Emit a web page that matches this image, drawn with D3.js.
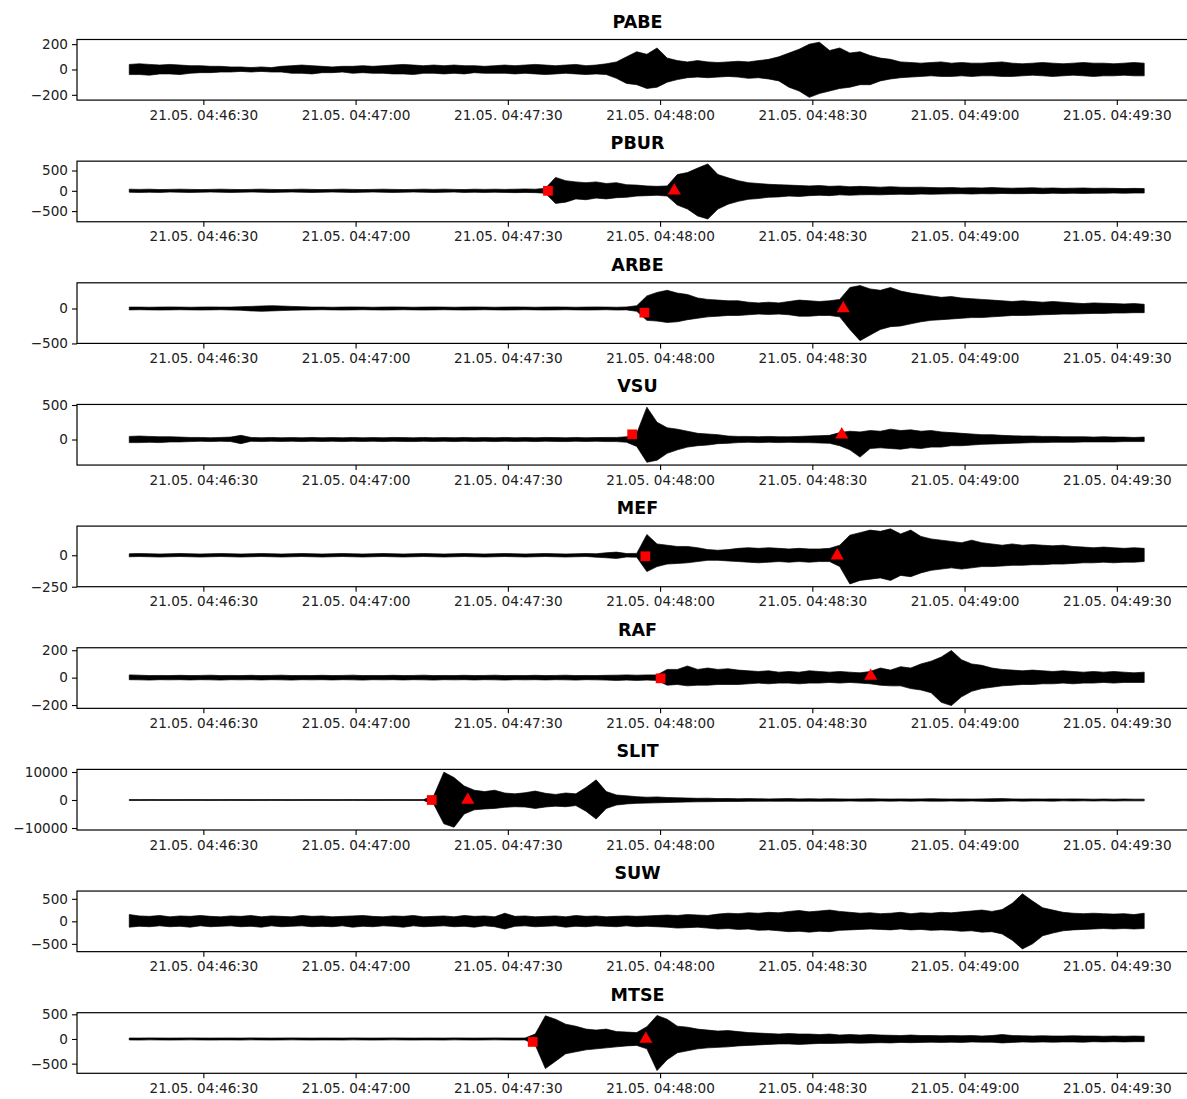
<!DOCTYPE html>
<html>
<head>
<meta charset="utf-8">
<script src="https://cdn.jsdelivr.net/npm/d3@7"></script>
<style>
body { margin: 0; background: #fff; }
text { font-family: "DejaVu Sans", sans-serif; }
</style>
</head>
<body>
<svg id="chart" width="1187" height="1099"></svg>
<script>
var stations = ["PABE", "PBUR", "ARBE", "VSU", "MEF", "RAF", "SLIT", "SUW", "MTSE"];

// trace envelope, one max/min pair every 2 s starting 21.05. 04:46:15.4
var traceStart = new Date(2021, 4, 21, 4, 46, 15, 400);
var stepMs = 2000;

var pabeHi = [40,45,40,35,40,35,30,30,25,25, 20,20,15,20,15,25,30,35,30,25, 20,25,25,30,25,30,35,40,35,30,
  35,30,35,30,30,25,30,35,30,35, 40,35,30,35,40,30,35,45,60,100, 140,120,170,90,70,60,70,60,55,60,
  65,60,70,80,100,130,160,200,215,150, 170,130,140,110,90,80,60,55,50,55, 60,50,55,50,50,55,60,50,45,50,
  55,50,45,50,55,50,50,45,50,55,50];
var pabeLo = [-40,-40,-45,-35,-35,-40,-30,-25,-25,-20, -20,-15,-20,-15,-20,-20,-30,-30,-35,-25, -25,-20,-30,-25,-30,-30,-35,-35,-40,-30,
  -30,-35,-30,-35,-25,-30,-30,-30,-35,-30, -35,-40,-35,-30,-35,-40,-35,-40,-70,-110, -120,-150,-140,-100,-80,-65,-60,-65,-60,-55,
  -60,-70,-65,-75,-90,-140,-170,-220,-190,-170, -150,-140,-120,-120,-90,-75,-65,-60,-55,-50, -55,-55,-50,-55,-50,-50,-55,-55,-50,-45,
  -50,-55,-50,-45,-50,-55,-50,-50,-45,-50,-50];

var pburHi = [40,35,40,30,35,40,35,30,35,40, 35,30,35,40,35,30,35,40,35,30, 35,40,35,30,35,40,35,30,35,40,
  35,40,35,30,40,35,40,35,40,45, 40,60,330,250,220,200,220,180,200,150, 140,120,110,120,400,450,560,663,400,320,
  250,200,180,160,150,140,130,120,130,110, 120,100,110,100,90,100,90,85,90,80, 75,80,70,75,70,80,70,65,70,75,
  65,70,60,65,70,60,65,60,55,60,55];
var pburLo = [-35,-40,-35,-40,-30,-35,-40,-35,-30,-35, -40,-35,-30,-35,-40,-35,-30,-35,-40,-35, -30,-35,-40,-35,-30,-35,-40,-35,-30,-35,
  -40,-35,-30,-40,-35,-40,-35,-40,-45,-40, -45,-60,-310,-280,-200,-220,-180,-200,-170,-160, -130,-120,-110,-130,-350,-450,-620,-695,-450,-330,
  -260,-210,-190,-160,-150,-130,-140,-120,-110,-120, -100,-110,-100,-95,-100,-90,-85,-90,-80,-85, -80,-75,-70,-80,-70,-75,-65,-70,-70,-65,
  -70,-60,-65,-60,-65,-60,-60,-55,-60,-55,-55];

var arbeHi = [20,20,18,20,22,20,18,20,22,20, 20,25,30,35,40,35,30,25,20,20, 18,20,22,20,18,20,22,20,18,20,
  22,20,18,20,22,20,18,20,22,20, 18,20,22,20,18,20,22,20,18,22, 40,180,230,260,220,200,150,130,120,110,
  110,90,80,90,80,100,120,110,100,110, 130,300,328,280,260,300,250,220,200,180, 160,170,150,140,130,120,110,100,110,100,
  90,100,90,80,70,80,75,70,65,70,60];
var arbeLo = [-20,-18,-20,-22,-20,-18,-20,-22,-20,-18, -22,-25,-35,-40,-35,-30,-25,-22,-20,-18, -20,-22,-20,-18,-20,-22,-20,-18,-20,-22,
  -20,-18,-20,-22,-20,-18,-20,-22,-20,-18, -20,-22,-20,-18,-20,-22,-20,-18,-22,-20, -40,-170,-180,-200,-190,-160,-140,-120,-110,-100,
  -100,-90,-80,-85,-80,-90,-110,-110,-100,-100, -120,-300,-460,-380,-300,-260,-250,-220,-190,-170, -160,-150,-140,-130,-130,-120,-110,-100,-100,-95,
  -90,-85,-80,-80,-75,-70,-70,-65,-65,-60,-60];

var vsuHi = [45,50,45,40,40,35,30,30,25,30, 35,60,30,25,30,25,28,25,30,25, 28,25,30,25,28,25,30,28,25,30,
  25,28,25,30,25,28,25,30,25,28, 25,30,28,25,30,25,28,30,30,40, 90,468,250,170,150,120,90,80,70,50,
  45,45,40,45,40,40,45,50,55,60, 100,120,110,130,120,150,130,140,120,130, 110,100,90,80,70,70,60,55,50,50,
  45,45,40,40,40,35,40,35,35,30,35];
var vsuLo = [-45,-45,-40,-45,-35,-35,-30,-25,-30,-25, -30,-60,-25,-30,-25,-28,-25,-30,-25,-28, -25,-30,-25,-28,-25,-30,-25,-28,-30,-25,
  -28,-25,-30,-25,-28,-25,-30,-25,-28,-25, -30,-25,-28,-30,-25,-28,-25,-30,-30,-40, -100,-330,-300,-200,-150,-110,-90,-80,-60,-55,
  -45,-40,-45,-40,-45,-40,-45,-45,-50,-55, -90,-150,-255,-130,-120,-130,-140,-120,-130,-110, -110,-90,-90,-80,-70,-65,-60,-55,-50,-45,
  -45,-40,-40,-40,-35,-35,-35,-35,-30,-30,-30];

var mefHi = [12,14,12,10,12,14,12,10,12,14, 12,10,12,14,12,10,12,14,12,10, 12,14,12,10,12,14,12,10,12,14,
  12,10,12,14,12,10,12,14,12,10, 12,14,12,10,12,14,12,20,25,14, 15,165,90,80,70,70,60,45,40,45,
  55,60,55,60,55,50,55,50,50,55, 80,160,180,200,190,210,170,200,150,130, 120,110,100,120,100,90,80,90,80,85,
  80,75,80,70,65,60,65,60,55,60,55];
var mefLo = [-12,-10,-12,-14,-12,-10,-12,-14,-12,-10, -12,-14,-12,-10,-12,-14,-12,-10,-12,-14, -12,-10,-12,-14,-12,-10,-12,-14,-12,-10,
  -12,-14,-12,-10,-12,-14,-12,-10,-12,-14, -12,-10,-12,-14,-12,-10,-15,-20,-25,-14, -15,-130,-90,-70,-65,-60,-50,-40,-40,-45,
  -50,-55,-60,-55,-50,-55,-50,-55,-50,-50, -90,-228,-200,-190,-180,-200,-160,-170,-140,-120, -110,-100,-110,-100,-90,-90,-85,-80,-80,-75,
  -75,-70,-70,-65,-60,-60,-55,-60,-55,-55,-50];

var rafHi = [20,18,15,16,15,17,15,16,18,15, 16,15,17,15,16,18,15,16,15,17, 15,16,18,15,16,15,17,15,16,18,
  15,16,15,17,15,16,18,15,16,15, 17,15,16,18,15,16,15,17,18,20, 18,20,20,60,60,85,60,70,60,65,
  55,50,45,50,40,45,40,50,45,40, 45,40,35,45,70,55,80,70,100,120, 150,198,130,100,90,70,60,55,50,55,
  50,45,50,45,40,45,40,45,40,35,40];
var rafLo = [-15,-16,-18,-15,-16,-15,-17,-15,-16,-18, -15,-16,-15,-17,-15,-16,-18,-15,-16,-15, -17,-15,-16,-18,-15,-16,-15,-17,-15,-16,
  -18,-15,-16,-15,-17,-15,-16,-18,-15,-16, -15,-17,-15,-16,-18,-15,-16,-18,-20,-18, -20,-18,-20,-55,-50,-60,-55,-55,-50,-50,
  -50,-45,-40,-45,-40,-40,-45,-40,-40,-35, -40,-35,-40,-45,-55,-60,-60,-80,-90,-110, -180,-204,-140,-100,-80,-70,-60,-55,-50,-50,
  -45,-45,-40,-45,-40,-40,-35,-40,-35,-35,-35];

var slitHi = [150,140,160,150,140,150,160,150,140,150, 160,150,140,150,160,150,140,150,160,150, 140,150,160,150,140,150,160,150,140,150,
  1500,9946,8000,5000,3500,3000,3500,2500,2200,2600, 3200,2400,2000,2500,2200,4500,7200,3000,1800,1500,
  1200,1000,1100,900,800,700,600,650,500,550, 450,500,450,400,450,500,400,450,400,450,
  400,350,400,450,400,350,400,350,400,450, 400,350,400,350,400,450,500,400,350,400,
  350,400,350,400,350,300,350,300,350,300,300];
var slitLo = [-150,-160,-140,-150,-160,-150,-140,-150,-160,-150, -140,-150,-160,-150,-140,-150,-160,-150,-140,-150, -160,-150,-140,-150,-160,-150,-140,-150,-160,-150,
  -1500,-8500,-9726,-5000,-3500,-3200,-3000,-2600,-2400,-2500, -3000,-2500,-2200,-2400,-2000,-4000,-6800,-3000,-1800,-1400,
  -1200,-1100,-1000,-900,-800,-700,-650,-600,-550,-500, -500,-450,-450,-400,-450,-400,-450,-400,-450,-400,
  -400,-350,-400,-400,-350,-400,-350,-400,-350,-400, -400,-350,-400,-350,-450,-500,-400,-350,-400,-350,
  -350,-400,-300,-350,-300,-350,-300,-350,-300,-300,-300];

var suwHi = [150,120,110,130,100,120,110,130,110,100, 120,110,130,100,120,110,100,130,110,120, 100,110,120,130,110,100,120,110,130,100,
  110,120,100,130,110,120,100,180,110,120, 100,110,120,100,130,110,120,100,110,120, 110,120,130,140,130,150,140,130,160,180,
  170,190,180,200,190,220,240,210,230,250, 220,200,180,190,170,180,200,170,190,180, 200,190,210,230,250,220,260,400,611,450,
  300,250,200,180,170,180,170,160,170,150,180];
var suwLo = [-130,-110,-120,-100,-120,-110,-130,-100,-120,-110, -100,-120,-110,-130,-100,-120,-110,-100,-120,-110, -120,-100,-130,-110,-120,-100,-110,-130,-100,-120,
  -110,-100,-120,-110,-130,-100,-120,-170,-110,-100, -120,-110,-100,-130,-110,-120,-100,-110,-120,-100, -120,-110,-120,-130,-150,-140,-130,-150,-170,-160,
  -180,-170,-200,-190,-210,-230,-220,-240,-220,-230, -200,-190,-180,-170,-180,-190,-170,-190,-180,-200, -190,-200,-220,-210,-240,-230,-280,-420,-612,-500,
  -320,-260,-210,-190,-180,-170,-160,-170,-160,-170,-160];

var mtseHi = [20,18,22,20,18,20,22,20,18,20, 20,18,22,20,18,20,22,20,18,20, 20,18,22,20,18,20,22,20,18,20, 20,18,22,20,18,20,22,20,18,20,
  100,470,400,300,260,200,180,200,150,140, 130,250,477,400,260,240,200,180,160,170,
  150,130,120,110,100,110,100,100,90,100, 80,90,80,90,80,75,70,80,70,70, 65,70,65,70,60,70,90,70,65,60,
  65,60,60,65,60,60,55,60,55,60,55];
var mtseLo = [-20,-22,-18,-20,-22,-20,-18,-20,-22,-20, -20,-22,-18,-20,-22,-20,-18,-20,-22,-20, -20,-22,-18,-20,-22,-20,-18,-20,-22,-20, -20,-22,-18,-20,-22,-20,-18,-20,-22,-20,
  -120,-600,-450,-300,-260,-220,-200,-180,-160,-140, -130,-200,-640,-420,-280,-240,-200,-180,-170,-160,
  -140,-130,-120,-110,-100,-100,-110,-100,-90,-90, -85,-80,-85,-80,-75,-80,-70,-75,-70,-65, -70,-65,-70,-60,-65,-65,-80,-70,-60,-65,
  -60,-65,-60,-60,-65,-55,-60,-55,-60,-55,-55];

var highs = [pabeHi, pburHi, arbeHi, vsuHi, mefHi, rafHi, slitHi, suwHi, mtseHi];
var lows = [pabeLo, pburLo, arbeLo, vsuLo, mefLo, rafLo, slitLo, suwLo, mtseLo];

var yTicks = [[-200, 0, 200], [-500, 0, 500], [-500, 0], [0, 500], [-250, 0],
              [-200, 0, 200], [-10000, 0, 10000], [-500, 0, 500], [-500, 0, 500]];

// picks, seconds after 04:46:00 (null = no pick)
var pPick = [null, 97.9, 116.9, 114.5, 117.1, 120.1, 75.0, null, 94.9];
var pAmp  = [null, 0, -60, 75, -8, -5, 0, null, -60];
var sPick = [null, 122.8, 156.1, 155.8, 154.9, 161.5, 82.1, null, 117.2];
var sAmp  = [null, 0, 0, 70, -3, 12, 0, null, 0];

var minute0 = new Date(2021, 4, 21, 4, 46, 0);
function secAfter(s) { return new Date(minute0.getTime() + s * 1000); }

var svg = d3.select("#chart"),
    left = 77,
    width = 1121,
    top0 = 39.5,
    pitch = 121.65,
    height = 60.6;

var x = d3.scaleTime()
    .domain([secAfter(5.1), secAfter(226.0)])
    .range([0, width]);

stations.forEach(function(name, k) {
  var hi = highs[k], lo = lows[k];
  var data = hi.map(function(v, i) {
    return {t: new Date(traceStart.getTime() + i * stepMs), hi: v, lo: lo[i]};
  });

  var ymin = d3.min(lo), ymax = d3.max(hi), pad = (ymax - ymin) * 0.05;
  var y = d3.scaleLinear()
      .domain([ymin - pad, ymax + pad])
      .range([height, 0]);

  var g = svg.append("g")
      .attr("transform", "translate(" + left + "," + (top0 + k * pitch) + ")");

  g.append("text")
      .attr("x", width / 2)
      .attr("y", -12)
      .attr("text-anchor", "middle")
      .attr("font-weight", "bold")
      .attr("font-size", "17.5px")
      .text(name);

  var area = d3.area()
      .x(function(d) { return x(d.t); })
      .y0(function(d) { return y(d.lo); })
      .y1(function(d) { return y(d.hi); });

  g.append("path")
      .datum(data)
      .attr("fill", "#000")
      .attr("stroke", "#000")
      .attr("stroke-width", 0.7)
      .attr("stroke-linejoin", "round")
      .attr("d", area);

  if (pPick[k] !== null) {
    g.append("path")
        .attr("d", d3.symbol(d3.symbolSquare, 95)())
        .attr("transform", "translate(" + x(secAfter(pPick[k])) + "," + y(pAmp[k]) + ")")
        .attr("fill", "#ff0000");
    g.append("path")
        .attr("d", d3.symbol(d3.symbolTriangle, 75)())
        .attr("transform", "translate(" + x(secAfter(sPick[k])) + "," + y(sAmp[k]) + ")")
        .attr("fill", "#ff0000");
  }

  g.append("rect")
      .attr("width", width)
      .attr("height", height)
      .attr("fill", "none")
      .attr("stroke", "#000")
      .attr("stroke-width", 1.2);

  var ya = g.append("g")
      .call(d3.axisLeft(y).tickValues(yTicks[k]).tickFormat(d3.format("d")).tickSize(5).tickPadding(4));
  ya.select(".domain").remove();

  var xa = g.append("g")
      .attr("transform", "translate(0," + height + ")")
      .call(d3.axisBottom(x).ticks(d3.timeSecond.every(30))
        .tickFormat(d3.timeFormat("%d.%m. %H:%M:%S")).tickSize(5).tickPadding(5));
  xa.select(".domain").remove();

  g.selectAll(".tick text")
      .attr("font-size", "13.6px")
      .attr("font-family", "DejaVu Sans, sans-serif")
      .attr("fill", "#222");
  g.selectAll(".tick line").attr("stroke", "#000").attr("stroke-width", 1.1);
});
</script>
</body>
</html>
